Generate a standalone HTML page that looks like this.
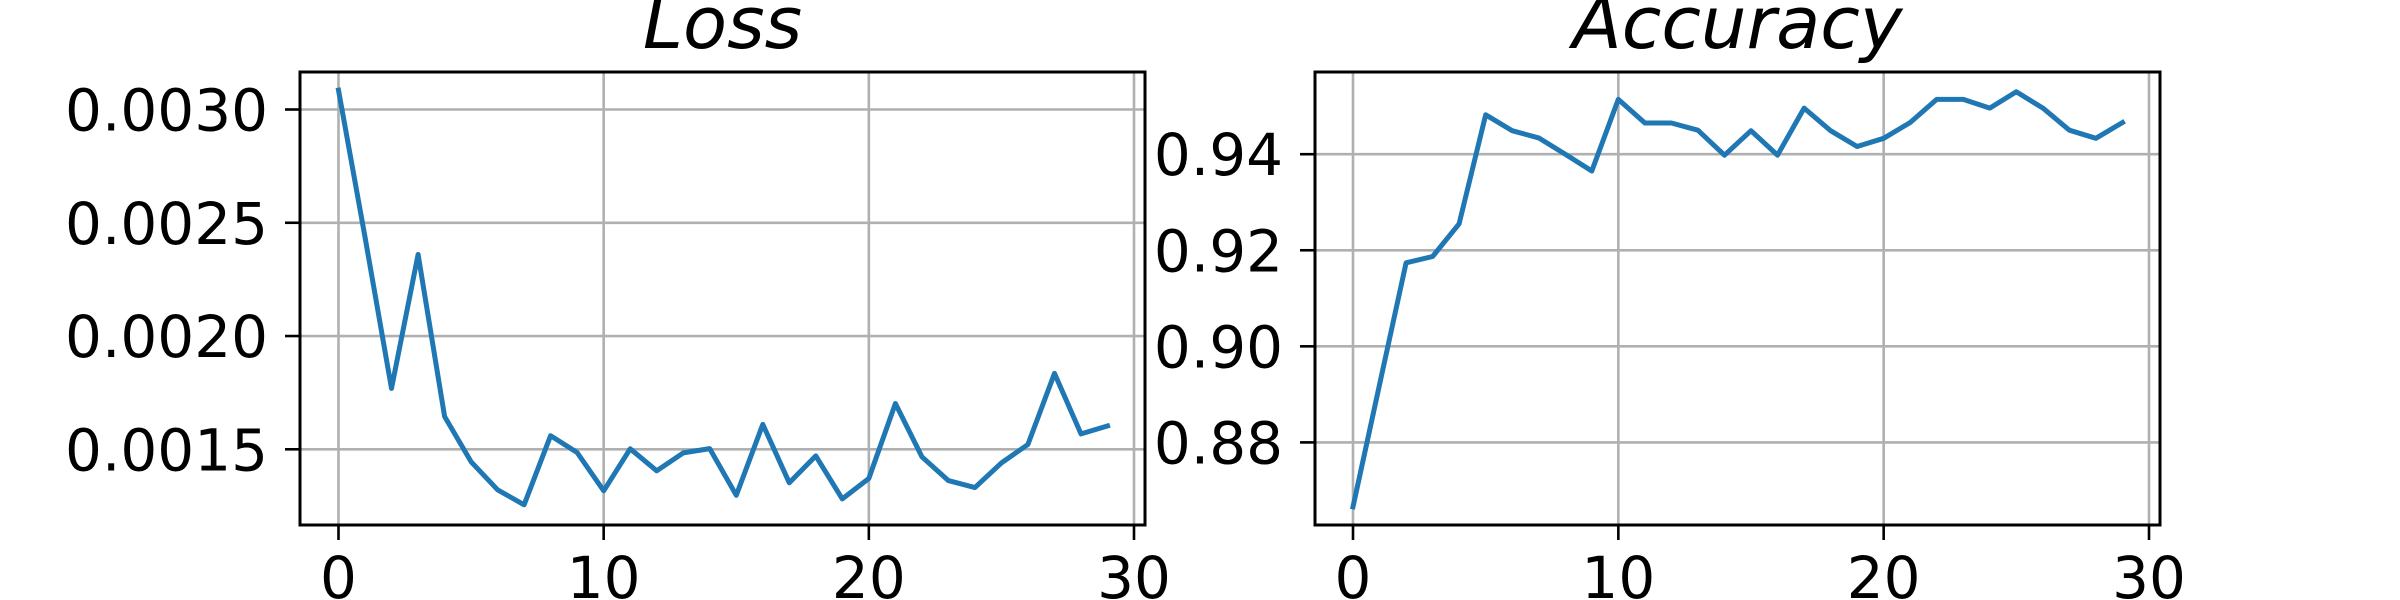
<!DOCTYPE html>
<html><head><meta charset="utf-8"><style>
html,body{margin:0;padding:0;background:#fff;width:2400px;height:600px;overflow:hidden}
svg{display:block}
text{font-family:"DejaVu Sans","Liberation Sans",sans-serif;fill:#000}
</style></head><body>
<svg id="fig" width="2400" height="600" viewBox="0 0 2400 600" xmlns="http://www.w3.org/2000/svg"></svg>
<script>
const epochs = [0,1,2,3,4,5,6,7,8,9,10,11,12,13,14,15,16,17,18,19,20,21,22,23,24,25,26,27,28,29];
const lossValues = [0.003085,0.002437,0.001769,0.00236,0.001645,0.001445,0.001321,0.001255,0.00156,0.001486,0.001317,0.001502,0.001405,0.001484,0.001503,0.001297,0.00161,0.001352,0.001471,0.001281,0.001371,0.001702,0.001467,0.001362,0.001331,0.00144,0.001521,0.001835,0.001568,0.001603];
const accValues = [0.8666,0.892,0.9174,0.9187,0.9255,0.9482,0.9449,0.9434,0.940,0.9365,0.9514,0.9465,0.9465,0.945,0.9398,0.9449,0.9398,0.9496,0.9449,0.9416,0.9433,0.9466,0.9514,0.9514,0.9496,0.953,0.9496,0.945,0.9433,0.9466];
const xTicks = [0,10,20,30];
const xTickLabels = ["0","10","20","30"];
const lossYTicks = [0.0015,0.0020,0.0025,0.0030];
const lossYTickLabels = ["0.0015","0.0020","0.0025","0.0030"];
const accYTicks = [0.88,0.90,0.92,0.94];
const accYTickLabels = ["0.88","0.90","0.92","0.94"];

const NS = "http://www.w3.org/2000/svg";
const svg = document.getElementById('fig');
function mk(tag, attrs, parent){
  const e = document.createElementNS(NS, tag);
  for (const k in attrs) e.setAttribute(k, attrs[k]);
  (parent||svg).appendChild(e);
  return e;
}
function panel(cfg){
  const g = mk('g', {});
  
  
  const L=cfg.left, R=cfg.right, T=72, B=525;
  const xs = v => cfg.x0 + (v - 0) * (cfg.x30 - cfg.x0) / 30;
  const ys = v => cfg.yA + (v - cfg.vA) * (cfg.yB - cfg.yA) / (cfg.vB - cfg.vA);
  // grid
  cfg.xTicks.forEach((t,i)=>{
    const gl = mk('line', {x1:xs(t),x2:xs(t),y1:T,y2:B,stroke:'#b0b0b0','stroke-width':2.6}, g);
    
    
    const tk = mk('line', {x1:xs(t),x2:xs(t),y1:B,y2:B+15,stroke:'#000','stroke-width':2.6}, g);
    
    
    const tl = mk('text', {x:xs(t),y:598,'font-size':58,'text-anchor':'middle'}, g);
    tl.textContent = cfg.xLabels[i];
    
    
  });
  cfg.yTicks.forEach((t,i)=>{
    const y = ys(t);
    const gl = mk('line', {x1:L,x2:R,y1:y,y2:y,stroke:'#b0b0b0','stroke-width':2.6}, g);
    
    
    const tk = mk('line', {x1:L-15,x2:L,y1:y,y2:y,stroke:'#000','stroke-width':2.6}, g);
    
    
    const tl = mk('text', {x:cfg.labelRight,y:y+21,'font-size':58,'text-anchor':'end'}, g);
    tl.textContent = cfg.yLabels[i];
    
    
  });
  const pts = cfg.xData.map((x,i)=>xs(x).toFixed(1)+','+ys(cfg.yData[i]).toFixed(1)).join(' ');
  const ln = mk('polyline', {points:pts,fill:'none',stroke:'#1f77b4','stroke-width':5,'stroke-linejoin':'round','stroke-linecap':'square'}, g);
  
  
  const fr = mk('rect', {x:L,y:T,width:R-L,height:B-T,fill:'none',stroke:'#000','stroke-width':3}, g);
  
  
  const tt = mk('text', {x:(L+R)/2,y:48,'font-size':72,'font-style':'italic','text-anchor':'middle'}, g);
  tt.textContent = cfg.title;
  
  
}
panel({name:'loss',title:'Loss',left:300,right:1145,x0:338.5,x30:1134,yA:449.3,vA:0.0015,yB:109.5,vB:0.0030,labelRight:268,
  xTicks:xTicks,xLabels:xTickLabels,yTicks:lossYTicks,yLabels:lossYTickLabels,xData:epochs,yData:lossValues});
panel({name:'accuracy',title:'Accuracy',left:1315,right:2160,x0:1353,x30:2149,yA:442.4,vA:0.88,yB:154.2,vB:0.94,labelRight:1283,
  xTicks:xTicks,xLabels:xTickLabels,yTicks:accYTicks,yLabels:accYTickLabels,xData:epochs,yData:accValues});
</script>
</body></html>
